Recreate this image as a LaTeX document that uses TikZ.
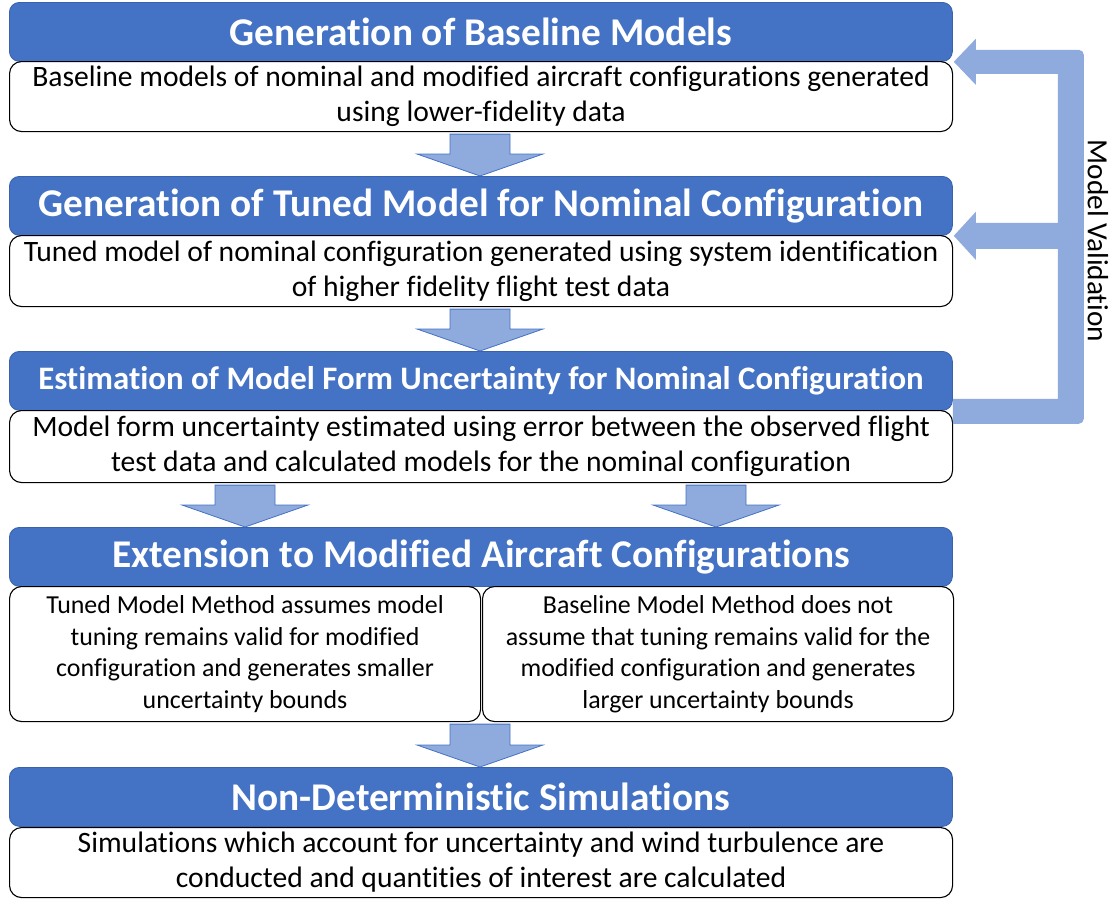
\documentclass[tikz,border=0pt]{standalone}
\usepackage{fontspec}
\setmainfont{Carlito}[Ligatures=NoCommon]
\usetikzlibrary{calc}

\definecolor{hdrblue}{HTML}{4472C4}
\definecolor{hdredge}{HTML}{3A62AC}
\definecolor{arrfill}{HTML}{8FAADC}

\tikzset{
  header/.style={draw=hdredge, line width=0.8pt, fill=hdrblue, rounded corners=10pt,
    anchor=north west, minimum width=943pt, minimum height=59pt, inner sep=0pt,
    text=white, font=\fontsize{39.3}{44}\selectfont\bfseries},
  body/.style={draw=black, line width=1.1pt, fill=white, rounded corners=12pt,
    anchor=north west, minimum width=943pt, inner sep=0pt, align=center,
    font=\fontsize{29.6}{35}\selectfont},
  halfbody/.style={body, minimum width=471pt, minimum height=135pt,
    font=\fontsize{25.9}{31.5}\selectfont},
  flowarr/.style={draw=hdrblue, line width=0.8pt, fill=arrfill, line join=miter},
  loopback/.style={fill=arrfill},
}

% block arrow pointing down from one box to the next, centred at x = #1
\newcommand\flowdown[3]{%
  \path[flowarr] let \p1=(#2.south), \p2=(#3.north) in
    (#1pt-30pt,\y1-2pt) -- (#1pt+30pt,\y1-2pt) -- (#1pt+30pt,\y2+22pt) --
    (#1pt+63pt,\y2+22pt) -- (#1pt,\y2) -- (#1pt-63pt,\y2+22pt) --
    (#1pt-30pt,\y2+22pt) -- cycle;}

\begin{document}
\begin{tikzpicture}[x=1pt,y=1pt]
\path[use as bounding box] (0,0) rectangle (1115,-898);

% stage 1
\node[header] (h1) at (9,-2) {Generation of Baseline Models};
\node[body, minimum height=70pt] (b1) at (9,-61)
  {Baseline models of nominal and modified aircraft configurations generated\\
   using lower-fidelity data};

% stage 2
\node[header] (h2) at (9,-176) {Generation of Tuned Model for Nominal Configuration};
\node[body, minimum height=71pt] (b2) at (9,-235)
  {Tuned model of nominal configuration generated using system identification\\
   of higher fidelity flight test data};

% stage 3
\node[header, font=\fontsize{32.8}{38}\selectfont\bfseries] (h3) at (9,-351)
  {Estimation of Model Form Uncertainty for Nominal Configuration};
\node[body, minimum height=72pt] (b3) at (9,-410)
  {Model form uncertainty estimated using error between the observed flight\\
   test data and calculated models for the nominal configuration};

% stage 4
\node[header] (h4) at (9,-527) {Extension to Modified Aircraft Configurations};
\node[halfbody] (b4l) at (9,-586)
  {Tuned Model Method assumes model\\ tuning remains valid for modified\\
   configuration and generates smaller\\ uncertainty bounds};
\node[halfbody] (b4r) at (482,-586)
  {Baseline Model Method does not\\ assume that tuning remains valid for the\\
   modified configuration and generates\\ larger uncertainty bounds};

% stage 5
\node[header] (h5) at (9,-767) {Non-Deterministic Simulations};
\node[body, minimum height=70pt] (b5) at (9,-827)
  {Simulations which account for uncertainty and wind turbulence are\\
   conducted and quantities of interest are calculated};

% downward flow
\flowdown{480}{b1}{h2}
\flowdown{480}{b2}{h3}
\flowdown{245}{b3}{h4}
\flowdown{716}{b3}{h4}
\flowdown{480}{b4l}{h5}

% model validation feedback loop
\path[loopback] let \p1=(h1.south east), \p2=(h2.south east), \p3=(h3.south east) in
  (\x1+1pt,\y1) -- (\x1+23pt,\y1+23pt) -- (\x1+23pt,\y1+12pt)
  [rounded corners=5pt] -- (\x1+131pt,\y1+12pt) -- (\x1+131pt,\y3-13pt)
  [sharp corners] -- (\x3,\y3-13pt) -- (\x3,\y3+12pt) -- (\x1+105pt,\y3+12pt)
  -- (\x1+105pt,\y2-13pt) -- (\x1+23pt,\y2-13pt) -- (\x1+23pt,\y2-24pt)
  -- (\x2+1pt,\y2) -- (\x1+23pt,\y2+24pt) -- (\x1+23pt,\y2+13pt)
  -- (\x1+105pt,\y2+13pt) -- (\x1+105pt,\y1-12pt) -- (\x1+23pt,\y1-12pt)
  -- (\x1+23pt,\y1-23pt) -- cycle;
\node[rotate=-90, font=\fontsize{29.3}{34}\selectfont] (mv) at (1098,-241) {Model Validation};

\end{tikzpicture}
\end{document}
